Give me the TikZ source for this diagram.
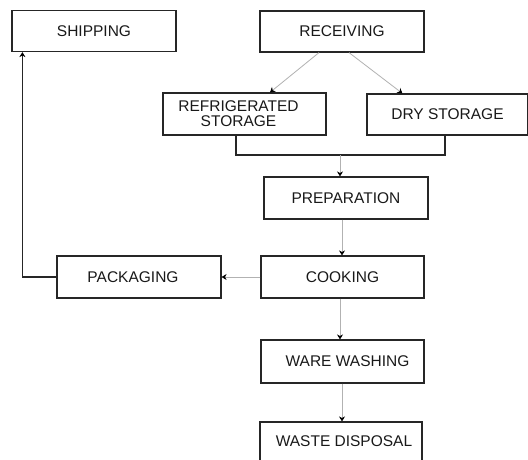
\documentclass[tikz,border=0pt]{standalone}
\usepackage{fontspec}
\setmainfont{Liberation Sans}
\usetikzlibrary{arrows.meta,calc}
\begin{document}
\begin{tikzpicture}[x=1pt,y=-1pt,
  lbl/.style={font=\fontsize{15.5}{15}\selectfont,text=black!90,align=center},
  stage/.style={draw=black!85,line width=1.2pt,inner sep=0pt,lbl},
  flow/.style={draw=black!30,line width=0.8pt,-{Stealth[length=5pt,width=6pt,black]}},
  link/.style={draw=black!85,line width=1.2pt},
  backflow/.style={link,-{Stealth[length=5pt,width=6pt,black]}}]
\useasboundingbox[fill=white] (0,0) rectangle (528,459);
\node[stage,minimum width=164pt,minimum height=41pt] (ship) at (94,31) {SHIPPING};
\node[stage,minimum width=164pt,minimum height=41pt] (rec) at (342,31.5) {RECEIVING};
\node[stage,minimum width=163pt,minimum height=42pt] (ref) at (244.5,114) {};
\node at ($(ref.center)+(-6,0)$) [lbl] (reft) {REFRIGERATED\\STORAGE};
\node[stage,minimum width=161pt,minimum height=41pt] (dry) at (447.5,114.5) {DRY STORAGE};
\node[stage,minimum width=164pt,minimum height=42pt] (prep) at (346,198) {PREPARATION};
\node[stage,minimum width=163pt,minimum height=42pt] (cook) at (342.5,277) {COOKING};
\node[stage,minimum width=164pt,minimum height=42pt] (pack) at (139,277) {};
\node at ($(pack.center)+(-6,0)$) [lbl] (packt) {PACKAGING};
\node[stage,minimum width=163pt,minimum height=43pt] (ware) at (342.5,361.5) {};
\node at ($(ware.center)+(5,0)$) [lbl] (waret) {WARE WASHING};
\node[stage,minimum width=162pt,minimum height=42pt] (waste) at (341,443) {};
\node at ($(waste.center)+(3,-2)$) [lbl] (wastet) {WASTE DISPOSAL};
% receiving to storages
\draw[flow] ($(rec.south)+(-23,0)$) -- ($(ref.north)+(25.5,0)$);
\draw[flow] ($(rec.south)+(7,0)$) -- ($(dry.north west)+(36,0)$);
% bracket
\coordinate (bl) at (236,155);
\coordinate (br) at (445,155);
\coordinate (bm) at (340,155);
\draw[link] (ref.south -| bl) -- (bl) -- (br) -- (dry.south -| br);
\draw[flow] (bm) -- (prep.north -| bm);
\coordinate (c1) at (342,0);
\draw[flow] (prep.south -| c1) -- (cook.north -| c1);
\coordinate (c2) at (340,0);
\draw[flow] (cook.south -| c2) -- (ware.north -| c2);
\draw[flow] (ware.south -| c1) -- (waste.north -| c1);
\draw[flow] (cook.west) -- (pack.east);
\draw[backflow] (pack.west) -| ($(ship.south west)+(11,0)$);
\end{tikzpicture}
\end{document}
